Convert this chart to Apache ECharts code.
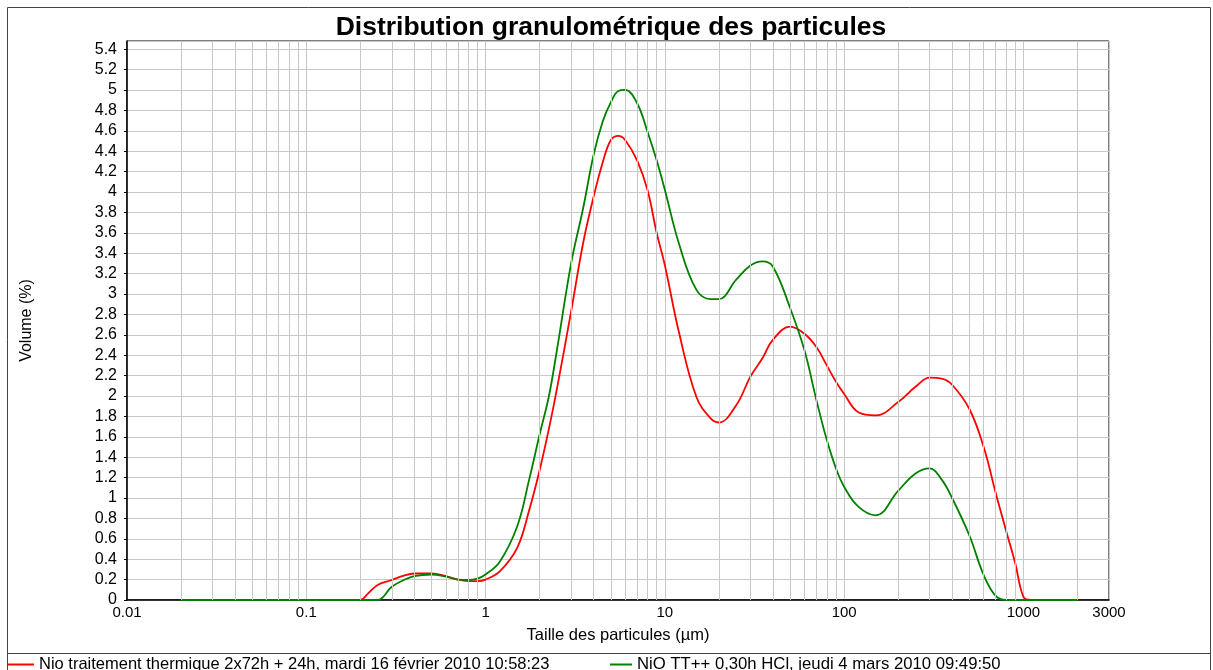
<!DOCTYPE html>
<html>
<head>
<meta charset="utf-8">
<script src="https://cdn.jsdelivr.net/npm/echarts@6/dist/echarts.min.js"></script>
<style>
  html, body { margin: 0; padding: 0; background: #fff; }
  #chart { width: 1213px; height: 670px; }
</style>
</head>
<body>
<div id="chart"></div>
<script>
// particle sizes (µm)
const sizes = [
  0.02, 0.05, 0.1, 0.15, 0.2, 0.22, 0.25, 0.3, 0.35, 0.4,
  0.5, 0.6, 0.7, 0.8, 0.9, 1, 1.2, 1.5, 1.75, 2,
  2.25, 2.5, 3, 3.5, 4, 4.5, 5, 5.5, 6, 7,
  8, 9, 10, 12, 15, 18, 20, 25, 30, 35,
  40, 50, 60, 70, 80, 90, 100, 120, 150, 200,
  250, 300, 350, 400, 500, 600, 700, 800, 900, 1000,
  1100, 1500, 2000
];

// volume (%) - Nio traitement thermique
const redVolume = [
  0, 0, 0, 0, 0, 0.06, 0.147, 0.196, 0.24, 0.26,
  0.26, 0.235, 0.2, 0.186, 0.186, 0.2, 0.28, 0.51, 0.88, 1.27,
  1.67, 2.07, 2.83, 3.5, 3.95, 4.29, 4.51, 4.55, 4.51, 4.31,
  4.02, 3.6, 3.28, 2.62, 1.99, 1.78, 1.74, 1.91, 2.19, 2.37,
  2.55, 2.68, 2.61, 2.48, 2.3, 2.14, 2.02, 1.84, 1.81, 1.94,
  2.09, 2.18, 2.17, 2.11, 1.87, 1.5, 1.05, 0.68, 0.36, 0.03,
  0, 0, 0
];

// volume (%) - NiO TT++
const greenVolume = [
  0, 0, 0, 0, 0, 0, 0, 0.13, 0.196, 0.235,
  0.25, 0.23, 0.2, 0.196, 0.21, 0.25, 0.375, 0.72, 1.18, 1.62,
  1.99, 2.45, 3.3, 3.84, 4.36, 4.69, 4.88, 4.99, 5.0, 4.87,
  4.59, 4.31, 4.02, 3.49, 3.04, 2.95, 2.95, 3.14, 3.28, 3.32,
  3.27, 2.86, 2.45, 1.96, 1.57, 1.29, 1.11, 0.915, 0.83, 1.07,
  1.24, 1.29, 1.18, 1.0, 0.63, 0.245, 0.04, 0, 0, 0,
  0, 0, 0
];

const seriesNames = [
  'Nio traitement thermique 2x72h + 24h, mardi 16 février 2010 10:58:23',
  'NiO TT++ 0,30h HCl, jeudi 4 mars 2010 09:49:50'
];

const font = 'Liberation Sans, Arial, sans-serif';

// minor vertical grid lines at 2..9 of each decade
const minorLines = [];
for (let d = 0.01; d < 3000; d *= 10) {
  for (let m = 2; m <= 9; m++) {
    const v = +(d * m).toPrecision(6);
    if (v < 3000) minorLines.push({ xAxis: v });
  }
}

const chart = echarts.init(document.getElementById('chart'));

chart.setOption({
  animation: false,
  textStyle: { fontFamily: font, color: '#000' },
  title: {
    text: 'Distribution granulométrique des particules',
    left: 611,
    textAlign: 'center',
    top: 14,
    padding: 0,
    textStyle: { fontFamily: font, fontSize: 26.5, fontWeight: 'bold', color: '#000' }
  },
  graphic: [
    {
      type: 'rect',
      shape: { x: 7.5, y: 7.5, width: 1203, height: 670 },
      style: { fill: null, stroke: '#444', lineWidth: 1 },
      silent: true
    },
    {
      type: 'line',
      shape: { x1: 7, y1: 653.5, x2: 1211, y2: 653.5 },
      style: { stroke: '#444', lineWidth: 1 },
      silent: true
    }
  ],
  legend: [
    {
      data: [seriesNames[0]],
      left: 8, top: 656, padding: 0,
      icon: 'rect', itemWidth: 26, itemHeight: 2,
      selectedMode: false,
      textStyle: { fontFamily: font, fontSize: 16.5, color: '#000' }
    },
    {
      data: [seriesNames[1]],
      left: 610, top: 656, padding: 0,
      icon: 'rect', itemWidth: 22, itemHeight: 2,
      selectedMode: false,
      textStyle: { fontFamily: font, fontSize: 16.7, color: '#000' }
    }
  ],
  grid: {
    left: 127, right: 104, top: 41, bottom: 70,
    show: true,
    borderColor: '#000',
    borderWidth: 1
  },
  xAxis: {
    type: 'log',
    logBase: 10,
    min: 0.01,
    max: 3000,
    name: 'Taille des particules (µm)',
    nameLocation: 'middle',
    nameGap: 27,
    nameTextStyle: { fontFamily: font, fontSize: 16.5, color: '#000' },
    axisLine: { lineStyle: { color: '#000', width: 1.5 } },
    axisTick: { show: false },
    axisLabel: {
      fontFamily: font, fontSize: 15, color: '#000', margin: 5,
      formatter: v => String(+(+v).toPrecision(6))
    },
    splitLine: { show: true, lineStyle: { color: '#c8c8c8', width: 1 } }
  },
  yAxis: {
    type: 'value',
    min: 0,
    max: 5.48,
    interval: 0.2,
    name: 'Volume (%)',
    nameLocation: 'middle',
    nameRotate: 90,
    nameGap: 92,
    nameTextStyle: { fontFamily: font, fontSize: 16, color: '#000' },
    axisLine: { show: true, lineStyle: { color: '#000', width: 1.5 } },
    axisTick: { show: true, length: 3, lineStyle: { color: '#000' } },
    axisLabel: {
      fontFamily: font, fontSize: 16, color: '#000', margin: 10,
      showMaxLabel: false,
      formatter: v => String(+(+v).toFixed(1))
    },
    splitLine: { show: true, lineStyle: { color: '#c8c8c8', width: 1 } }
  },
  series: [
    {
      name: 'grid-minor',
      type: 'line',
      data: [],
      silent: true,
      z: 1,
      markLine: {
        silent: true,
        symbol: 'none',
        label: { show: false },
        lineStyle: { color: '#c8c8c8', width: 1, type: 'solid' },
        data: minorLines
      }
    },
    {
      name: seriesNames[0],
      type: 'line',
      data: sizes.map((s, i) => [s, redVolume[i]]),
      showSymbol: false,
      smooth: 0.4,
      z: 3,
      color: '#ff0000',
      lineStyle: { color: '#ff0000', width: 1.8 }
    },
    {
      name: seriesNames[1],
      type: 'line',
      data: sizes.map((s, i) => [s, greenVolume[i]]),
      showSymbol: false,
      smooth: 0.4,
      z: 4,
      color: '#008000',
      lineStyle: { color: '#008000', width: 1.8 }
    }
  ]
});
</script>
</body>
</html>
